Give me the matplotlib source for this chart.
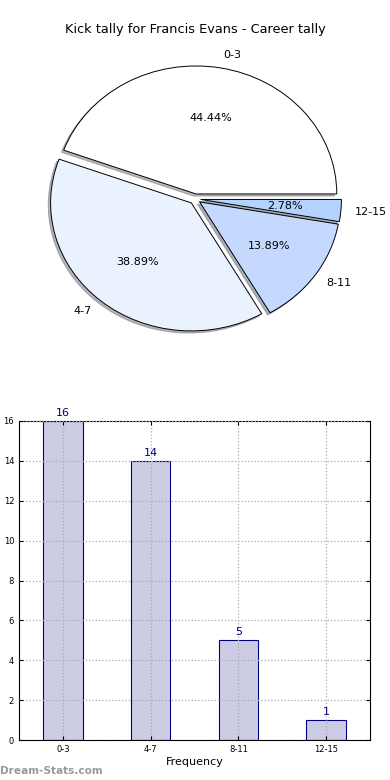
import matplotlib
matplotlib.use('Agg')
import matplotlib.pyplot as plt

# data
categories = ['0-3', '4-7', '8-11', '12-15']
counts = [16, 14, 5, 1]
pie_colors = ['#FFFFFF', '#EAF1FF', '#C5D9FF', '#B3D2FF']

title = 'Kick tally for Francis Evans - Career tally'

fig = plt.figure(figsize=(3.9, 7.8), dpi=100)

# --- pie ---
ax1 = fig.add_axes([19 / 390, 1 - 359 / 780, 352 / 390, 320 / 780])
wedges, texts, autotexts = ax1.pie(counts, labels=categories, colors=pie_colors,
                                   explode=[0.04] * 4, autopct='%1.2f%%',
                                   pctdistance=0.6, labeldistance=1.1,
                                   radius=1.0,
                                   shadow={'ox': -0.012, 'oy': -0.012, 'shade': 0.55},
                                   startangle=0,
                                   wedgeprops=dict(edgecolor='black', linewidth=0.7),
                                   textprops=dict(fontsize=8))
ax1.set_aspect('auto')
ax1.set_xlim(-1.25, 1.25)
ax1.set_ylim(-1.25, 1.25)
fig.text(0.5, 1 - 30 / 780, title, ha='center', va='center', fontsize=9.3)

# --- bars ---
ax2 = fig.add_axes([19 / 390, 1 - 740 / 780, 351 / 390, 319 / 780])
x = range(len(categories))
ax2.bar(x, counts, width=0.45, color='#CCCCE5', edgecolor='#000080',
        linewidth=0.8, zorder=2)
for i, v in zip(x, counts):
    ax2.text(i, v + 0.15, str(v), ha='center', va='bottom', color='#000080',
             fontsize=8)
ax2.set_xlim(-0.5, 3.5)
ax2.set_ylim(0, 16)
ax2.set_yticks(range(0, 17, 2))
ax2.set_xticks(list(x))
ax2.set_xticklabels(categories)
ax2.tick_params(labelsize=6, direction='in', top=True, right=True, length=3)
ax2.grid(True, linestyle=':', color='#AAAAAA', linewidth=0.9, zorder=3)
ax2.set_axisbelow(False)
ax2.set_xlabel('Frequency', fontsize=8, labelpad=2)
ax2.set_ylabel('Stat Interval', fontsize=8, labelpad=2)

fig.text(0.0, 1 - 771 / 780, 'Dream-Stats.com', ha='left', va='center',
         fontsize=7.6, color='#999999', fontweight='bold')

fig.savefig('out.png', dpi=100)
